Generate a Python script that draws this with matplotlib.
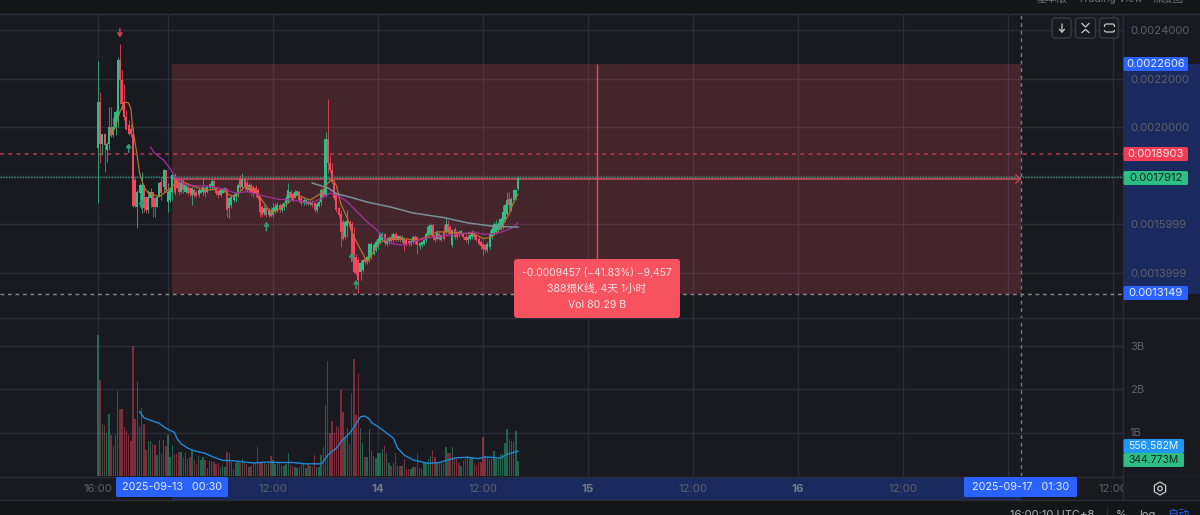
import numpy as np
import matplotlib
matplotlib.use("Agg")
import matplotlib.pyplot as plt
from matplotlib.patches import Rectangle, FancyBboxPatch, RegularPolygon, Circle

plt.rcParams['font.family'] = ['Inter', 'Noto Sans CJK SC', 'DejaVu Sans']

W, H = 1200, 515
PRICE_UNIT = 1e-4

# 15 minute candles, price in units of 1e-4
opens = [
    19.13, 21.04, 19.30, 19.74, 19.06, 19.33, 20.02, 19.67, 20.02, 20.29,
    22.78, 21.93, 21.04, 20.43, 20.08, 19.95, 19.74, 17.82, 16.73, 17.28,
    16.93, 17.62, 17.14, 16.59, 17.07, 17.34, 17.07, 16.73, 17.14, 17.76,
    17.55, 18.26, 16.93, 17.00, 17.34, 18.03, 17.89, 17.76, 17.34, 17.69,
    17.34, 17.55, 17.48, 17.21, 17.41, 17.34, 17.21, 17.28, 17.34, 17.48,
    17.34, 17.48, 17.55, 17.80, 17.51, 17.37, 17.21, 17.30, 17.39, 17.44,
    16.66, 16.80, 17.00, 17.14, 17.28, 17.85, 17.55, 17.85, 17.69, 17.41,
    17.62, 17.55, 17.48, 17.41, 17.14, 16.73, 16.45, 16.66, 16.39, 16.59,
    16.39, 16.52, 16.59, 16.80, 16.59, 16.70, 16.87, 16.93, 17.34, 17.25,
    17.14, 17.21, 17.34, 17.07, 16.87, 16.87, 16.97, 16.84, 16.93, 16.87,
    16.59, 16.76, 16.93, 17.41, 17.21, 19.50, 18.51, 18.24, 17.69, 17.27,
    16.66, 16.44, 16.10, 15.48, 15.92, 16.10, 16.03, 15.62, 14.66, 14.52,
    14.04, 14.11, 14.59, 14.45, 14.52, 14.66, 14.80, 14.93, 15.07, 15.28,
    15.34, 15.59, 15.21, 15.28, 15.48, 15.34, 15.62, 15.37, 15.51, 15.34,
    15.44, 15.37, 15.30, 15.18, 15.28, 15.48, 15.48, 15.10, 15.14, 15.21,
    15.34, 15.55, 15.62, 15.96, 15.55, 15.41, 15.62, 15.37, 15.69, 15.69,
    16.03, 15.89, 15.14, 15.82, 15.69, 15.69, 15.59, 15.65, 15.50, 15.34,
    15.41, 15.50, 15.62, 15.55, 15.41, 15.28, 15.21, 15.14, 14.96, 15.07,
    15.48, 15.62, 15.69, 15.76, 15.82, 15.89, 16.17, 16.44, 17.06, 16.61,
    16.99, 17.06, 17.47,
]
highs = [
    22.73, 21.45, 19.74, 19.74, 19.40, 20.84, 20.84, 20.43, 20.70, 22.89,
    23.44, 22.35, 21.80, 20.70, 20.29, 20.15, 20.02, 17.96, 17.41, 17.69,
    18.17, 17.62, 17.14, 17.41, 17.51, 17.34, 17.14, 17.21, 17.76, 17.96,
    18.30, 18.26, 17.69, 17.48, 18.17, 18.10, 17.96, 17.82, 17.89, 17.89,
    17.69, 17.69, 17.55, 17.55, 17.48, 17.41, 17.48, 17.48, 17.93, 17.55,
    17.62, 17.69, 17.85, 17.82, 17.55, 17.41, 17.48, 17.48, 17.55, 17.48,
    17.14, 17.21, 17.28, 17.34, 17.69, 18.03, 18.10, 17.96, 17.82, 17.69,
    17.69, 17.62, 17.62, 17.48, 17.21, 16.80, 16.80, 16.73, 16.66, 16.73,
    16.87, 16.87, 16.93, 16.87, 16.87, 16.93, 17.21, 17.69, 17.41, 17.34,
    17.41, 17.41, 17.41, 17.21, 17.07, 17.07, 17.00, 17.00, 17.00, 16.93,
    16.93, 17.00, 17.48, 17.48, 19.81, 21.18, 18.85, 18.51, 17.82, 17.34,
    16.73, 16.60, 16.24, 16.17, 16.58, 16.17, 16.10, 15.89, 14.80, 14.66,
    14.52, 14.59, 14.66, 14.70, 15.24, 15.28, 15.24, 15.34, 15.48, 15.69,
    15.69, 15.65, 15.48, 15.51, 15.59, 15.69, 15.69, 15.55, 15.55, 15.55,
    15.48, 15.41, 15.34, 15.34, 15.55, 15.55, 15.52, 15.28, 15.30, 15.41,
    15.69, 15.96, 16.00, 16.00, 15.62, 15.76, 15.69, 15.62, 15.96, 16.30,
    16.17, 15.96, 15.82, 15.89, 15.76, 15.76, 15.76, 15.69, 15.55, 15.55,
    15.62, 15.76, 15.69, 15.62, 15.48, 15.34, 15.28, 15.21, 15.28, 15.76,
    15.96, 16.10, 16.17, 16.10, 16.30, 16.78, 16.85, 17.33, 17.33, 17.13,
    17.47, 17.47, 17.98,
]
lows = [
    16.89, 18.51, 18.85, 18.17, 18.58, 19.06, 19.61, 19.61, 19.67, 20.02,
    20.98, 20.70, 20.29, 19.88, 19.67, 19.61, 16.73, 16.73, 15.84, 16.73,
    16.45, 16.52, 16.45, 16.45, 16.73, 16.32, 16.32, 16.73, 17.14, 17.00,
    17.28, 17.34, 16.52, 16.93, 17.00, 17.21, 17.48, 17.21, 17.28, 17.28,
    17.28, 17.21, 17.14, 16.80, 17.14, 17.14, 17.14, 17.28, 17.21, 17.14,
    17.28, 17.41, 17.41, 17.41, 17.21, 17.07, 17.14, 17.28, 17.34, 16.32,
    16.25, 16.66, 16.93, 16.93, 17.14, 17.41, 17.41, 17.41, 17.34, 17.34,
    17.21, 17.14, 17.14, 17.00, 16.32, 16.32, 16.39, 16.32, 16.32, 16.32,
    16.32, 16.48, 16.52, 16.52, 16.52, 16.59, 16.73, 16.87, 17.00, 16.93,
    17.07, 17.21, 16.93, 16.80, 16.80, 16.80, 16.80, 16.80, 16.73, 16.52,
    16.52, 16.73, 16.80, 17.07, 17.14, 18.10, 18.17, 17.69, 17.00, 16.52,
    16.32, 15.07, 15.34, 15.41, 15.48, 15.76, 14.52, 13.98, 13.91, 13.18,
    13.70, 14.04, 14.38, 14.38, 14.45, 14.59, 14.73, 14.87, 15.00, 15.21,
    15.28, 15.14, 15.10, 15.21, 15.28, 15.28, 15.32, 15.32, 15.28, 15.28,
    14.91, 15.10, 15.10, 15.10, 15.21, 15.21, 14.80, 15.00, 15.07, 15.14,
    15.28, 15.48, 15.55, 15.34, 15.28, 15.34, 15.34, 15.30, 15.34, 15.55,
    15.62, 15.55, 15.07, 15.41, 15.41, 15.48, 15.55, 15.41, 15.28, 15.21,
    15.37, 15.41, 15.41, 15.30, 15.14, 15.00, 14.73, 14.87, 14.87, 15.00,
    15.41, 15.55, 15.62, 15.69, 15.76, 15.82, 16.10, 16.37, 16.58, 16.54,
    16.92, 16.99, 17.40,
]
closes = [
    21.04, 19.33, 19.74, 19.26, 19.33, 20.02, 19.67, 20.02, 20.63, 22.78,
    21.93, 20.98, 20.43, 19.95, 19.74, 19.74, 16.76, 16.76, 17.34, 17.62,
    17.62, 16.66, 16.59, 17.14, 17.34, 16.73, 16.73, 17.14, 17.69, 17.28,
    18.26, 17.41, 17.34, 17.41, 18.03, 17.28, 17.48, 17.34, 17.69, 17.41,
    17.62, 17.30, 17.28, 17.48, 17.21, 17.17, 17.41, 17.41, 17.55, 17.28,
    17.58, 17.66, 17.80, 17.48, 17.28, 17.21, 17.41, 17.44, 17.51, 16.59,
    17.07, 17.14, 17.21, 17.28, 17.62, 17.48, 17.89, 17.55, 17.41, 17.62,
    17.34, 17.28, 17.28, 17.07, 16.52, 16.39, 16.66, 16.39, 16.62, 16.35,
    16.66, 16.73, 16.80, 16.62, 16.80, 16.87, 17.07, 17.41, 17.07, 17.00,
    17.34, 17.39, 17.00, 16.87, 17.00, 17.00, 16.84, 16.93, 16.80, 16.59,
    16.84, 16.93, 17.41, 17.14, 19.50, 18.51, 18.24, 17.76, 17.07, 16.59,
    16.39, 15.69, 15.41, 16.10, 16.14, 15.89, 14.66, 14.04, 13.98, 13.70,
    14.39, 14.52, 14.45, 14.66, 15.18, 15.21, 15.14, 15.28, 15.41, 15.62,
    15.59, 15.24, 15.41, 15.45, 15.32, 15.62, 15.37, 15.51, 15.34, 15.48,
    15.21, 15.21, 15.18, 15.30, 15.48, 15.28, 15.14, 15.25, 15.28, 15.37,
    15.62, 15.89, 15.96, 15.48, 15.34, 15.69, 15.41, 15.55, 15.41, 16.03,
    15.69, 15.62, 15.76, 15.48, 15.48, 15.55, 15.72, 15.48, 15.34, 15.48,
    15.55, 15.69, 15.48, 15.34, 15.21, 15.10, 14.97, 14.95, 15.21, 15.62,
    15.82, 16.03, 16.03, 16.03, 16.24, 16.51, 16.78, 16.99, 16.78, 17.06,
    17.40, 17.43, 17.91,
]
# volume in billions
volumes = [
    3.23, 2.20, 1.20, 1.18, 1.00, 1.43, 0.94, 0.70, 0.94, 1.95,
    1.55, 1.55, 1.13, 1.04, 0.94, 0.80, 3.00, 1.32, 2.15, 1.15,
    1.56, 1.20, 0.60, 0.80, 0.80, 0.73, 0.71, 0.48, 0.82, 0.50,
    0.83, 0.70, 0.95, 0.43, 0.71, 0.50, 0.50, 0.56, 0.55, 0.44,
    0.52, 0.40, 0.44, 0.60, 0.38, 0.27, 0.47, 0.37, 0.44, 0.37,
    0.18, 0.34, 0.35, 0.33, 0.27, 0.29, 0.21, 0.25, 0.21, 0.56,
    0.52, 0.33, 0.16, 0.29, 0.35, 0.31, 0.40, 0.30, 0.27, 0.21,
    0.24, 0.29, 0.29, 0.66, 0.30, 0.29, 0.30, 0.27, 0.30, 0.47,
    0.37, 0.27, 0.29, 0.30, 0.25, 0.24, 0.27, 0.52, 0.25, 0.23,
    0.21, 0.18, 0.21, 0.29, 0.27, 0.18, 0.27, 0.23, 0.21, 0.48,
    0.21, 0.20, 0.48, 0.67, 1.63, 2.65, 1.00, 1.26, 1.00, 1.15,
    1.12, 1.98, 1.46, 0.89, 1.10, 0.73, 1.90, 2.68, 1.41, 2.35,
    1.11, 0.76, 0.43, 0.44, 1.08, 0.58, 0.46, 0.42, 0.52, 0.53,
    0.62, 0.70, 0.52, 0.31, 0.24, 0.31, 0.52, 0.24, 0.22, 0.23,
    0.40, 0.15, 0.15, 0.15, 0.21, 0.21, 0.52, 0.18, 0.16, 0.31,
    0.33, 0.40, 0.47, 0.60, 0.44, 0.30, 0.33, 0.29, 0.30, 0.66,
    0.52, 0.53, 0.66, 0.40, 0.40, 0.29, 0.23, 0.34, 0.39, 0.47,
    0.43, 0.44, 0.30, 0.25, 0.33, 0.33, 0.89, 0.44, 0.44, 0.37,
    0.40, 0.57, 0.40, 0.40, 0.50, 0.50, 0.75, 1.08, 0.84, 0.80,
    0.79, 1.03, 0.35,
]

# moving averages, read at their bends (bar number, value)
ma_fast_bar = [6, 8, 10, 12, 14, 15, 16, 18, 19, 21, 23, 28, 33, 37, 44, 50, 56, 60, 63, 67,
               71, 76, 79, 85, 91, 97, 102, 105, 107, 109, 111, 114, 117, 121, 123, 125, 129,
               134, 140, 146, 150, 155, 161, 167, 172, 176, 180, 184, 188, 190, 192]
ma_fast_val = [19.67, 20.02, 20.63, 21.04, 21.00, 20.77, 19.88, 18.78, 18.10, 17.55, 17.28, 17.14,
               17.48, 17.82, 17.55, 17.41, 17.48, 17.21, 17.14, 17.55, 17.48, 16.87, 16.46, 16.73,
               17.21, 17.00, 17.28, 17.69, 17.88, 17.60, 16.85, 16.24, 15.48, 14.80, 14.45, 14.73,
               15.28, 15.41, 15.41, 15.34, 15.48, 15.69, 15.69, 15.62, 15.62, 15.41, 15.48, 15.82,
               16.44, 16.92, 17.24]
ma_mid_bar = [24, 26, 30, 33, 35, 40, 53, 59, 63, 68, 74, 82, 89, 98, 102, 106, 108, 112, 115, 120,
              124, 127, 130, 134, 140, 146, 153, 161, 172, 176, 182, 187, 190, 192]
ma_mid_val = [19.19, 18.92, 18.65, 18.30, 17.96, 17.62, 17.55, 17.41, 17.28, 17.35, 17.21, 17.04,
              17.00, 16.89, 17.07, 17.28, 17.24, 17.06, 16.85, 16.37, 16.03, 15.82, 15.48, 15.21,
              15.14, 15.34, 15.48, 15.55, 15.69, 15.59, 15.62, 15.76, 15.89, 16.07]
ma_slow_bar = [98, 105, 109, 115, 123, 134, 144, 158, 169, 181, 192]
ma_slow_val = [17.70, 17.51, 17.26, 17.13, 16.92, 16.71, 16.47, 16.28, 16.06, 15.92, 15.89]
vol_ma_bar = [19, 21, 24, 28, 31, 35, 36, 38, 41, 44, 49, 53, 57, 62, 67, 71, 77, 83, 89, 95, 102,
              103, 105, 109, 112, 115, 118, 120, 122, 124, 125, 129, 135, 137, 140, 144, 151, 156,
              160, 164, 169, 174, 177, 184, 187, 192]
vol_ma_val = [1.48, 1.34, 1.28, 1.21, 1.10, 1.00, 0.87, 0.74, 0.64, 0.58, 0.52, 0.43, 0.36, 0.35,
              0.32, 0.30, 0.32, 0.31, 0.31, 0.28, 0.28, 0.33, 0.48, 0.64, 0.84, 0.98, 1.20, 1.36,
              1.38, 1.31, 1.23, 1.10, 0.87, 0.64, 0.48, 0.37, 0.29, 0.31, 0.37, 0.42, 0.43, 0.40,
              0.44, 0.41, 0.50, 0.57]

buy_bars = [14, 20, 77, 116, 118]
buy_prices = [19.34, 17.03, 16.11, 14.84, 13.72]
sell_bars = [10]
sell_prices = [23.70]

entry_top = 22.606
entry_bottom = 13.149
entry_start = 34
entry_end = 422
stop_level = 18.903
last_price = 17.912

# the labels of 0.0018, the 13th and the 17th sit behind the blue and green boxes in the screenshot
price_ticks = [14.0, 16.0, 18.0, 20.0, 22.0, 24.0]
price_labels = ["0.0013999", "0.0015999", "", "0.0020000", "0.0022000", "0.0024000"]
vol_ticks = [1, 2, 3]
vol_labels = ["1B", "2B", "3B"]
time_ticks = [0, 32, 80, 128, 176, 224, 272, 320, 368, 416, 464]
time_labels = ["16:00", "", "12:00", "14", "12:00", "15", "12:00", "16", "12:00", "", "12:00"]

BG = "#181a20"
GRID = "#2a2e39"
UP = "#2ebd85"
DOWN = "#f7465f"
MUTED = "#5d606b"
BLUE = "#2962ff"
BAND = "#1a2a5e"
RED_BOX = "#f7525f"


def px_axes(fig, x0, y0, x1, y1, **kw):
    return fig.add_axes([x0 / W, 1 - y1 / H, (x1 - x0) / W, (y1 - y0) / H], **kw)


def label_box(ui, x0, y0, x1, y1, color, text, text_color="#e8ecf5", size=8.1):
    ui.add_patch(FancyBboxPatch((x0, y0), x1 - x0, y1 - y0, boxstyle="round,pad=0,rounding_size=1.5",
                                fc=color, ec="none", zorder=5))
    ui.text((x0 + x1) / 2, (y0 + y1) / 2 + 0.3, text, color=text_color, fontsize=size,
            ha="center", va="center", zorder=6)


def draw_candles(ax, bars, o, h, l, c):
    colors = [UP if c[i] >= o[i] else DOWN for i in range(len(bars))]
    ax.vlines(bars, l, h, colors=colors, lw=0.7, alpha=0.8, zorder=4)
    bottoms = np.minimum(o, c)
    heights = np.abs(c - o)
    ax.bar(bars, heights, 0.95, bottoms, color=colors, lw=0, zorder=5)


def main():
    fig = plt.figure(figsize=(W / 100, H / 100), dpi=100, facecolor="#141516")

    # panels behind the chart
    bg = px_axes(fig, 0, 0, W, H, zorder=-1)
    bg.set_xlim(0, W)
    bg.set_ylim(H, 0)
    bg.axis("off")
    bg.add_patch(Rectangle((0, 13), W, 487, fc=BG, ec="none"))
    bg.add_patch(Rectangle((1123, 64), 77, 229.5, fc=BAND, ec="none"))
    bg.add_patch(Rectangle((172, 476.5), 849, 23.5, fc=BAND, ec="none"))

    bars = np.arange(len(opens))
    o = np.array(opens) * PRICE_UNIT
    h = np.array(highs) * PRICE_UNIT
    l = np.array(lows) * PRICE_UNIT
    c = np.array(closes) * PRICE_UNIT
    vol = np.array(volumes)
    bar_px = 2.1875
    xlim = (-98 / bar_px, (1123 - 98) / bar_px)

    # price pane
    ax = px_axes(fig, 0, 14.6, 1123, 318.6)
    ax.set_facecolor("none")
    ax.set_xlim(*xlim)
    ax.set_ylim(12.118 * PRICE_UNIT, 24.643 * PRICE_UNIT)
    ax.set_xticks(time_ticks)
    ax.tick_params(axis="x", length=0, labelbottom=False)
    ax.yaxis.tick_right()
    ax.set_yticks([t * PRICE_UNIT for t in price_ticks])
    ax.set_yticklabels(price_labels)
    ax.tick_params(axis="y", length=0, pad=5, labelsize=8.1, labelcolor=MUTED)
    ax.grid(True, color=GRID, lw=1.0, zorder=0)
    ax.set_axisbelow(True)
    for s in ax.spines.values():
        s.set_visible(False)

    top = entry_top * PRICE_UNIT
    bottom = entry_bottom * PRICE_UNIT
    ax.add_patch(Rectangle((entry_start, bottom), entry_end - entry_start, top - bottom,
                           fc=RED_BOX, ec="none", alpha=0.2, zorder=1))
    ax.axhline(stop_level * PRICE_UNIT, color="#b53a4b", lw=1.1, dashes=(2.6, 2.8), zorder=2)
    ax.axhline(bottom, color="#8a8d96", lw=1.0, dashes=(2.7, 2.7), zorder=2)
    ax.hlines((last_price - 0.04) * PRICE_UNIT, entry_start, entry_end, color="#c8485a", lw=1.2, zorder=3)
    ax.plot(xlim, [(last_price + 0.02) * PRICE_UNIT] * 2, color="#2b9c76", lw=1.0,
            dashes=(1, 1), zorder=3)
    ax.vlines((entry_start + entry_end) / 2, bottom, top, color="#e04a5a", lw=1.0, zorder=3)
    ax.axvline(entry_end, color="#787b86", lw=1.0, dashes=(2.7, 2.7), zorder=3)

    draw_candles(ax, bars, o, h, l, c)
    ax.plot(ma_fast_bar, np.array(ma_fast_val) * PRICE_UNIT, color="#b8702a", lw=0.9, zorder=6)
    ax.plot(ma_mid_bar, np.array(ma_mid_val) * PRICE_UNIT, color="#a52f9e", lw=0.9, zorder=6)
    ax.plot(ma_slow_bar, np.array(ma_slow_val) * PRICE_UNIT, color="#7c8f98", lw=1.1, zorder=6)

    for bar, price in zip(buy_bars, buy_prices):
        ax.annotate("", xy=(bar, price * PRICE_UNIT), xytext=(0, -9), textcoords="offset pixels",
                    arrowprops=dict(arrowstyle="-|>,head_length=0.22,head_width=0.15", color="#2b9c76",
                                    lw=1.1, shrinkA=0, shrinkB=0), zorder=7)
    for bar, price in zip(sell_bars, sell_prices):
        ax.annotate("", xy=(bar, price * PRICE_UNIT), xytext=(0, 9), textcoords="offset pixels",
                    arrowprops=dict(arrowstyle="-|>,head_length=0.22,head_width=0.15", color="#c8404f",
                                    lw=1.1, shrinkA=0, shrinkB=0), zorder=7)

    # volume pane
    ax_v = px_axes(fig, 0, 318, 1123, 476)
    ax_v.set_facecolor("none")
    ax_v.set_xlim(*xlim)
    ax_v.set_ylim(0, 158 / 43.5)
    ax_v.yaxis.tick_right()
    ax_v.set_yticks(vol_ticks)
    ax_v.set_yticklabels(vol_labels)
    ax_v.set_xticks(time_ticks)
    ax_v.set_xticklabels(time_labels)
    ax_v.tick_params(axis="x", length=0, pad=6, labelsize=8.2, labelcolor=MUTED)
    ax_v.tick_params(axis="y", length=0, pad=5, labelsize=8.1, labelcolor=MUTED)
    for lab, txt in zip(ax_v.get_xticklabels(), time_labels):
        if len(txt) == 2:
            lab.set_fontweight("bold")
            lab.set_color("#787b86")
    ax_v.grid(True, color=GRID, lw=1.0, zorder=0)
    ax_v.set_axisbelow(True)
    for s in ax_v.spines.values():
        s.set_visible(False)
    ax_v.axvline(entry_end, color="#787b86", lw=1.0, dashes=(2.7, 2.7), zorder=3)
    vol_colors = [UP if closes[i] >= opens[i] else DOWN for i in bars]
    ax_v.bar(bars, vol, 0.68, color=vol_colors, alpha=0.45, lw=0, zorder=2)
    ax_v.plot(vol_ma_bar, vol_ma_val, color="#2187d8", lw=1.0, zorder=4)

    # labels, buttons and the strips on top of the chart
    ui = px_axes(fig, 0, 0, W, H, zorder=10)
    ui.set_xlim(0, W)
    ui.set_ylim(H, 0)
    ui.axis("off")
    ui.patch.set_alpha(0)
    for y in [13.5, 318, 476.5, 500]:
        ui.plot([0, W], [y, y], color=GRID, lw=1.0, zorder=1)
    ui.plot([1123, 1123], [13.5, 500], color=GRID, lw=1.0, zorder=1)
    ui.add_patch(Rectangle((1123.5, 477), 76.5, 22.5, fc=BG, ec="none", zorder=2))

    ui.plot([1016, 1020], [175, 179], color="#c8485a", lw=1.0, zorder=4)
    ui.plot([1016, 1020], [183, 179], color="#c8485a", lw=1.0, zorder=4)

    label_box(ui, 1123.5, 57, 1188, 71, BLUE, "0.0022606")
    label_box(ui, 1123.5, 147, 1188, 161, "#f23d55", "0.0018903", "#fbe3e6")
    label_box(ui, 1123.5, 171, 1188, 185, "#2ebd85", "0.0017912", "#0e2a22")
    label_box(ui, 1123.5, 286, 1188, 300, BLUE, "0.0013149")
    label_box(ui, 1123.5, 439, 1184, 453, "#2196f3", "556.582M", "#e3f1fc", size=7.5)
    label_box(ui, 1123.5, 453, 1184, 467, "#2ebd85", "344.773M", "#0e2a22", size=7.5)

    label_box(ui, 116, 477, 228, 497, BLUE, "2025-09-13   00:30", size=7.8)
    label_box(ui, 964, 477, 1077, 497, BLUE, "2025-09-17   01:30", size=7.8)

    # tooltip
    ui.add_patch(FancyBboxPatch((514, 259), 166, 59, boxstyle="round,pad=0,rounding_size=3",
                                fc=RED_BOX, ec="none", zorder=5))
    tip_color = "#ffe3e5"
    ui.text(597, 272, "-0.0009457 (\u221241.83%) \u22129,457", color=tip_color, fontsize=7.4,
            ha="center", va="center", zorder=6)
    ui.text(597, 288.5, "388根K线, 4天 1小时", color=tip_color, fontsize=7.6,
            ha="center", va="center", zorder=6)
    ui.text(597, 305, "Vol 80.29 B", color=tip_color, fontsize=7.6, ha="center", va="center", zorder=6)

    # toolbar buttons
    for x0, x1 in [(1052, 1071), (1075.5, 1095.5), (1099.5, 1118.5)]:
        ui.add_patch(FancyBboxPatch((x0, 18), x1 - x0, 20, boxstyle="round,pad=0,rounding_size=3",
                                    fc=BG, ec="#363a45", lw=1.0, zorder=5))
    ink = "#c8cad0"
    ui.annotate("", xy=(1062, 33), xytext=(1062, 24),
                arrowprops=dict(arrowstyle="->,head_length=0.2,head_width=0.18", color=ink, lw=0.9,
                                shrinkA=0, shrinkB=0), zorder=6)
    ui.plot([1082, 1085.5, 1089], [23.5, 27, 23.5], color=ink, lw=0.9, zorder=6)
    ui.plot([1082, 1085.5, 1089], [32.5, 29.5, 32.5], color=ink, lw=0.9, zorder=6)
    ui.add_patch(FancyBboxPatch((1104.5, 24), 10, 8, boxstyle="round,pad=0,rounding_size=2",
                                fc="none", ec=ink, lw=0.9, zorder=6))
    ui.add_patch(Rectangle((1103, 26.5), 13, 3, fc=BG, ec="none", zorder=6.5))

    # settings icon
    ui.add_patch(RegularPolygon((1160, 488.5), 6, radius=6.5, fc="none", ec=ink, lw=0.9, zorder=6))
    ui.add_patch(Circle((1160, 488.5), 2.2, fc="none", ec=ink, lw=0.9, zorder=6))

    # cut off text at the screenshot edges
    edge = "#b0b3ba"
    top_ink = "#6d7079"
    ui.text(1052, -1, "基本版", color=top_ink, fontsize=7.5, ha="center", va="center", zorder=6)
    ui.text(1110, -1, "Trading View", color=top_ink, fontsize=7.5, ha="center", va="center", zorder=6)
    ui.text(1168, -1, "深度图", color=top_ink, fontsize=7.5, ha="center", va="center", zorder=6)
    ui.text(1052, 515, "16:00:10 UTC+8", color=edge, fontsize=8, ha="center", va="center", zorder=6)
    ui.plot([1107, 1107], [507, H], color=GRID, lw=1.0, zorder=6)
    ui.text(1121, 515, "%", color=edge, fontsize=8, ha="center", va="center", zorder=6)
    ui.text(1147, 515, "log", color=edge, fontsize=8, ha="center", va="center", zorder=6)
    ui.text(1178, 515, "自动", color=BLUE, fontsize=8, ha="center", va="center", zorder=6)

    fig.savefig("out.png", dpi=100, facecolor=fig.get_facecolor())


if __name__ == '__main__':
    main()
